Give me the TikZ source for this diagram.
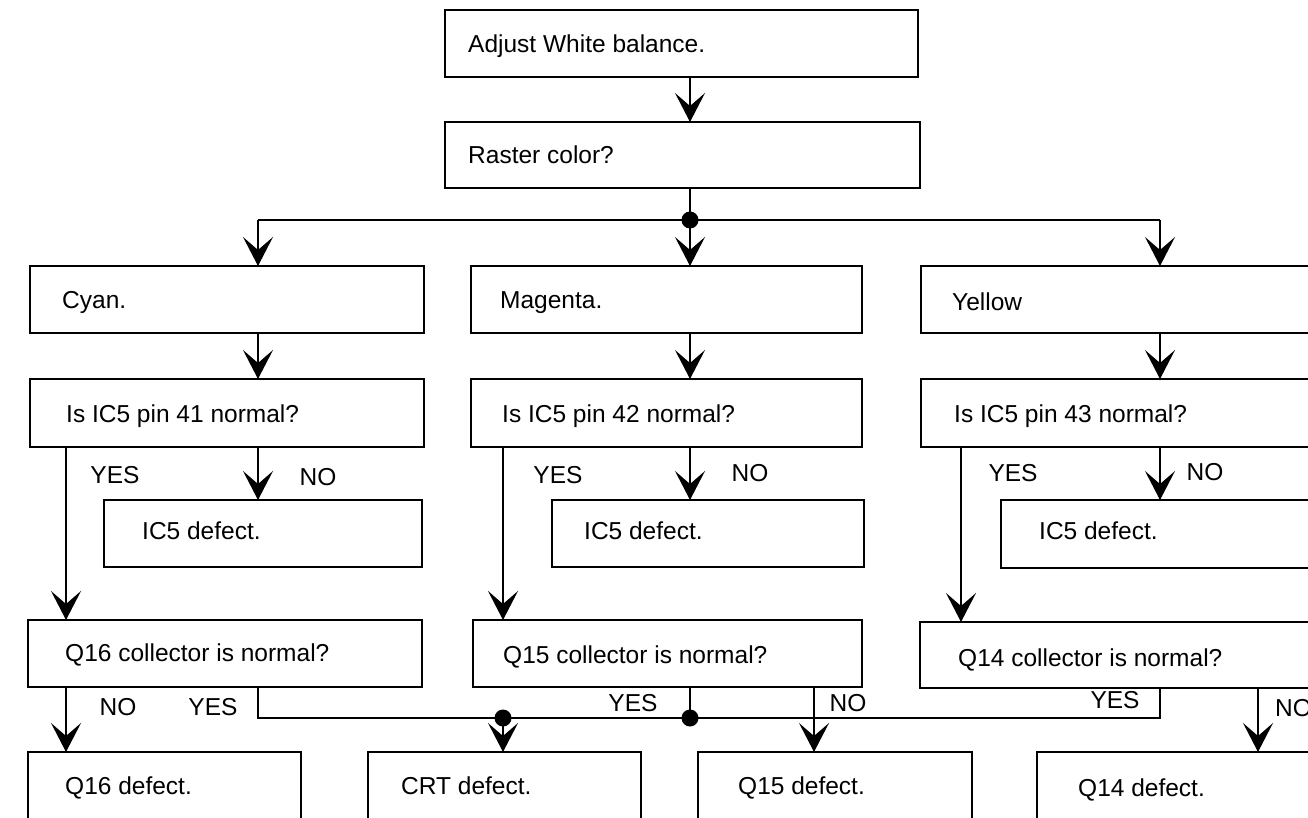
\documentclass[tikz,border=0pt]{standalone}
\usepackage{fontspec}
\setmainfont{Liberation Sans}
\usetikzlibrary{arrows.meta}

% a framed step: name, x1, y1, x2, y2, text x, text baseline, text
\newcommand\flowbox[8]{%
  \node[box, anchor=north west,
        minimum width={(#4-#2)*1pt}, minimum height={(#5-#3)*1pt}] (#1) at (#2,#3) {};
  \node[txt] (#1-t) at (#6,#7) {#8};
}

\tikzset{
  box/.style={draw, rectangle, line width=1.4pt, inner sep=0pt, outer sep=0pt},
  txt/.style={anchor=base west, inner sep=0pt, font=\fontsize{24.5}{28}\selectfont},
  lbl/.style={inner sep=0pt, font=\fontsize{24.5}{28}\selectfont},
  wire/.style={line width=1.3pt},
  arr/.style={wire, -{Stealth[length=29pt, width=30pt, inset=13pt]}},
  jdot/.style={circle, fill, inner sep=0pt, minimum size=17pt}
}

\begin{document}
\begin{tikzpicture}[x=1pt, y=-1pt]
  \useasboundingbox (0,0) rectangle (1308,818);
  \fill[white] (0,0) rectangle (1308,818);
  \clip (0,0) rectangle (1308,818);

  % column positions of the vertical connectors
  \coordinate (xA) at (258,0);
  \coordinate (xB) at (690,0);
  \coordinate (xC) at (1160,0);
  \coordinate (yA) at (66,0);
  \coordinate (yB) at (503,0);
  \coordinate (yC) at (961,0);
  \coordinate (nB) at (814,0);
  \coordinate (nC) at (1258,0);
  \coordinate (j0) at (690,220);
  \coordinate (jb) at (0,718);

  % steps
  \flowbox{adj}{445}{10}{918}{77}{468}{53}{Adjust White balance.}
  \flowbox{rast}{445}{122}{920}{188}{468}{164}{Raster color?}

  \flowbox{cyan}{30}{266}{424}{333}{62}{308}{Cyan.}
  \flowbox{mag}{471}{266}{862}{333}{500}{308}{Magenta.}
  \flowbox{yel}{921}{266}{1330}{333}{952}{310}{Yellow}

  \flowbox{p41}{30}{379}{424}{447}{66}{422}{Is IC5 pin 41 normal?}
  \flowbox{p42}{471}{379}{862}{447}{502}{422}{Is IC5 pin 42 normal?}
  \flowbox{p43}{921}{379}{1330}{447}{954}{422}{Is IC5 pin 43 normal?}

  \flowbox{ic5a}{104}{500}{422}{567}{142}{539}{IC5 defect.}
  \flowbox{ic5b}{552}{500}{864}{567}{584}{539}{IC5 defect.}
  \flowbox{ic5c}{1001}{500}{1330}{568}{1039}{539}{IC5 defect.}

  \flowbox{q16}{28}{620}{422}{687}{65}{661}{Q16 collector is normal?}
  \flowbox{q15}{473}{620}{862}{687}{503}{663}{Q15 collector is normal?}
  \flowbox{q14}{920}{622}{1330}{688}{958}{666}{Q14 collector is normal?}

  \flowbox{q16d}{28}{752}{301}{830}{65}{794}{Q16 defect.}
  \flowbox{crt}{368}{752}{641}{830}{401}{794}{CRT defect.}
  \flowbox{q15d}{698}{752}{972}{830}{738}{794}{Q15 defect.}
  \flowbox{q14d}{1037}{752}{1330}{830}{1078}{796}{Q14 defect.}

  % top chain and three-way branch
  \draw[arr] (adj.south -| xB) -- (rast.north -| xB);
  \draw[wire] (rast.south -| xB) -- (j0);
  \draw[wire] (j0 -| xA) -- (j0 -| xC);
  \draw[arr] (j0 -| xA) -- (cyan.north -| xA);
  \draw[arr] (j0) -- (mag.north -| xB);
  \draw[arr] (j0 -| xC) -- (yel.north -| xC);
  \node[jdot] (d0) at (j0) {};

  % colour to pin check
  \draw[arr] (cyan.south -| xA) -- (p41.north -| xA);
  \draw[arr] (mag.south -| xB) -- (p42.north -| xB);
  \draw[arr] (yel.south -| xC) -- (p43.north -| xC);

  % pin check: NO to IC5, YES to collector check
  \draw[arr] (p41.south -| xA) -- (ic5a.north -| xA);
  \draw[arr] (p42.south -| xB) -- (ic5b.north -| xB);
  \draw[arr] (p43.south -| xC) -- (ic5c.north -| xC);
  \draw[arr] (p41.south -| yA) -- (q16.north -| yA);
  \draw[arr] (p42.south -| yB) -- (q15.north -| yB);
  \draw[arr] (p43.south -| yC) -- (q14.north -| yC);

  \node[lbl] (y41) at (115,475) {YES};
  \node[lbl] (n41) at (318,477) {NO};
  \node[lbl] (y42) at (558,475) {YES};
  \node[lbl] (n42) at (750,473) {NO};
  \node[lbl] (y43) at (1013,473) {YES};
  \node[lbl] (n43) at (1205,472) {NO};

  % collector checks
  \draw[arr] (q16.south -| yA) -- (q16d.north -| yA);
  \draw[wire] (q16.south -| xA) |- (jb -| xC) -- (q14.south -| xC);
  \node[jdot] (d1) at (jb -| yB) {};
  \node[jdot] (d2) at (jb -| xB) {};
  \draw[wire] (q15.south -| xB) -- (d2.center);
  \draw[arr] (d1.center) -- (crt.north -| yB);
  \draw[arr] (q15.south -| nB) -- (q15d.north -| nB);
  \draw[arr] (q14.south -| nC) -- (q14d.north -| nC);

  \node[lbl] (n16) at (118,707) {NO};
  \node[lbl] (y16) at (213,707) {YES};
  \node[lbl] (y15) at (633,703) {YES};
  \node[lbl] (n15) at (848,703) {NO};
  \node[lbl] (y14) at (1115,700) {YES};
  \node[lbl, anchor=west] (n14) at (1275,708) {NO};
\end{tikzpicture}
\end{document}
